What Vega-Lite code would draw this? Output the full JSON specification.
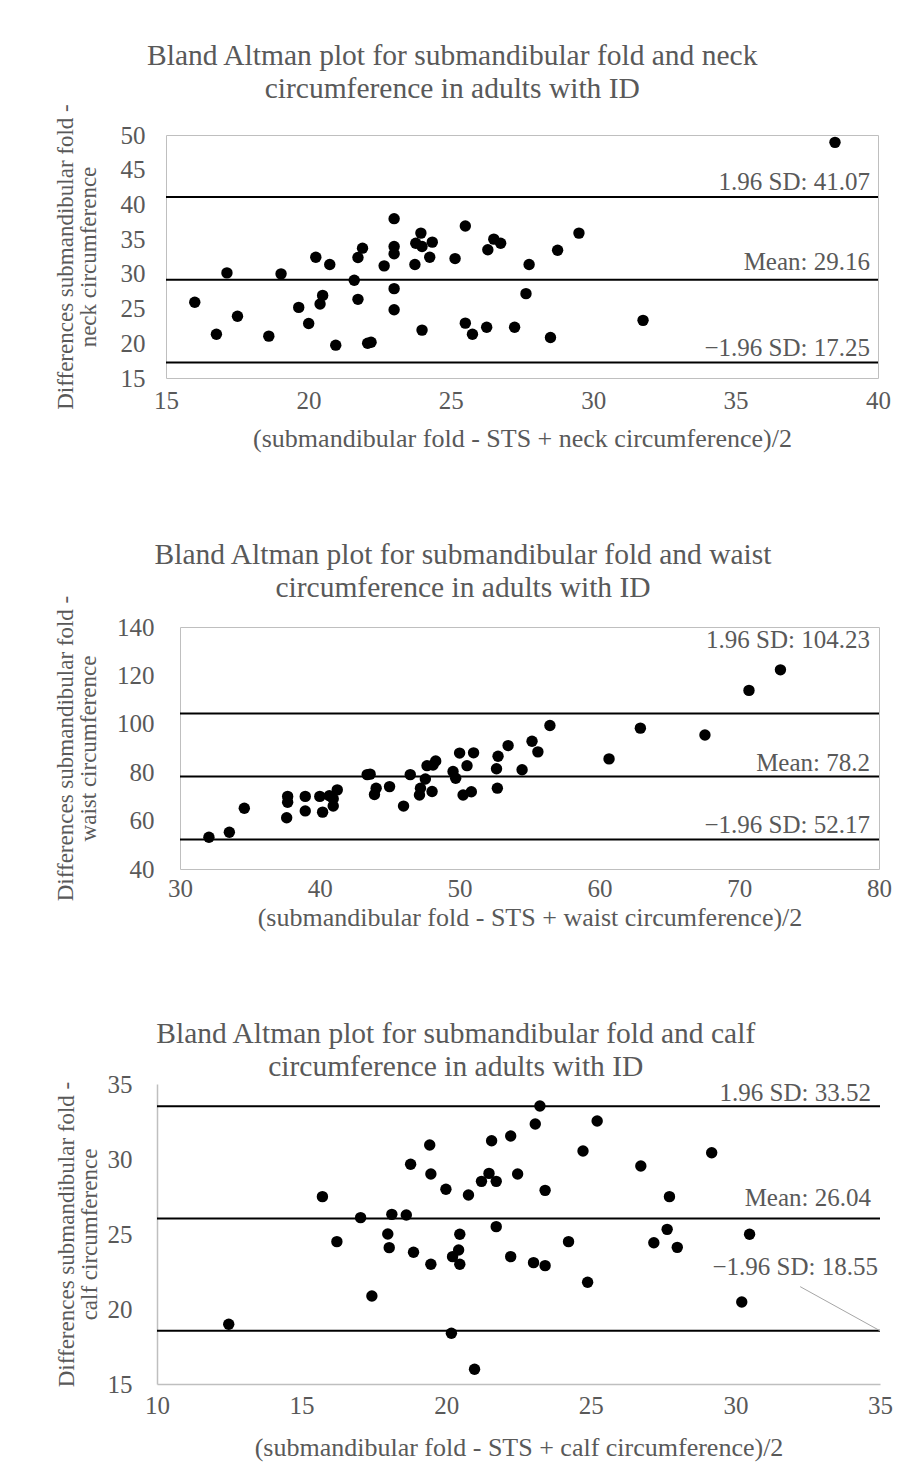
{
  "$schema": "https://vega.github.io/schema/vega-lite/v6.json",
  "background": "white",
  "padding": {"left": 10, "top": 40, "right": 10, "bottom": 5},
  "columns": 1,
  "spacing": 87,
  "config": {
    "font": "Liberation Serif",
    "view": {"stroke": "#bfbfbf", "strokeWidth": 1},
    "axis": {
      "grid": false, "ticks": false, "domain": false, "labelFlush": false, "labelOverlap": false, "tickCount": 20,
      "labelFont": "Liberation Serif", "labelFontSize": 25, "labelColor": "#595959",
      "titleFont": "Liberation Serif", "titleFontSize": 26, "titleColor": "#595959",
      "titleFontWeight": "normal", "titleLineHeight": 23
    },
    "title": {"font": "Liberation Serif", "fontSize": 29.5, "fontWeight": "normal", "color": "#595959", "anchor": "middle", "frame": "bounds", "lineHeight": 33}
  },
  "datasets": {
    "empty": [],
    "neck": [
      {"mean": 16.01, "diff": 25.9}, {"mean": 16.77, "diff": 21.3}, {"mean": 17.14, "diff": 30.14}, {"mean": 17.51, "diff": 23.9},
      {"mean": 18.61, "diff": 21.03}, {"mean": 19.04, "diff": 30.0}, {"mean": 19.66, "diff": 25.17}, {"mean": 20.01, "diff": 22.85},
      {"mean": 20.26, "diff": 32.4}, {"mean": 20.41, "diff": 25.65}, {"mean": 20.5, "diff": 26.9}, {"mean": 20.75, "diff": 31.34},
      {"mean": 20.96, "diff": 19.73}, {"mean": 21.61, "diff": 29.07}, {"mean": 21.74, "diff": 26.33}, {"mean": 21.74, "diff": 32.35},
      {"mean": 21.9, "diff": 33.7}, {"mean": 22.08, "diff": 20.0}, {"mean": 22.2, "diff": 20.15}, {"mean": 22.66, "diff": 31.15},
      {"mean": 23.01, "diff": 37.95}, {"mean": 23.01, "diff": 33.95}, {"mean": 23.01, "diff": 32.9}, {"mean": 23.01, "diff": 27.87},
      {"mean": 23.01, "diff": 24.83}, {"mean": 23.74, "diff": 31.34}, {"mean": 23.77, "diff": 34.4}, {"mean": 23.95, "diff": 35.87},
      {"mean": 23.99, "diff": 33.95}, {"mean": 23.99, "diff": 21.9}, {"mean": 24.26, "diff": 32.4}, {"mean": 24.35, "diff": 34.57},
      {"mean": 25.15, "diff": 32.2}, {"mean": 25.51, "diff": 36.9}, {"mean": 25.51, "diff": 22.9}, {"mean": 25.76, "diff": 21.3},
      {"mean": 26.26, "diff": 22.3}, {"mean": 26.3, "diff": 33.47}, {"mean": 26.51, "diff": 35.0}, {"mean": 26.75, "diff": 34.4},
      {"mean": 27.24, "diff": 22.3}, {"mean": 27.64, "diff": 27.15}, {"mean": 27.75, "diff": 31.34}, {"mean": 28.5, "diff": 20.83},
      {"mean": 28.75, "diff": 33.4}, {"mean": 29.5, "diff": 35.87}, {"mean": 31.75, "diff": 23.3}, {"mean": 38.49, "diff": 48.94}
    ],
    "neckLimits": [
      {"value": 41.07, "labelAt": 43.25, "label": "1.96 SD: 41.07"},
      {"value": 29.16, "labelAt": 31.67, "label": "Mean: 29.16"},
      {"value": 17.25, "labelAt": 19.38, "label": "−1.96 SD: 17.25"}
    ],
    "waist": [
      {"mean": 32.07, "diff": 53.1}, {"mean": 33.53, "diff": 55.2}, {"mean": 34.6, "diff": 65.1}, {"mean": 37.63, "diff": 61.2},
      {"mean": 37.7, "diff": 67.6}, {"mean": 37.7, "diff": 70.0}, {"mean": 38.96, "diff": 70.0}, {"mean": 38.96, "diff": 64.0},
      {"mean": 40.0, "diff": 70.0}, {"mean": 40.2, "diff": 63.5}, {"mean": 40.68, "diff": 70.3}, {"mean": 40.96, "diff": 66.0},
      {"mean": 40.96, "diff": 69.0}, {"mean": 41.25, "diff": 72.7}, {"mean": 43.39, "diff": 79.0}, {"mean": 43.6, "diff": 79.2},
      {"mean": 43.91, "diff": 70.8}, {"mean": 44.03, "diff": 73.4}, {"mean": 44.99, "diff": 74.05}, {"mean": 45.99, "diff": 66.0},
      {"mean": 46.47, "diff": 79.0}, {"mean": 47.13, "diff": 70.6}, {"mean": 47.2, "diff": 73.4}, {"mean": 47.55, "diff": 77.2},
      {"mean": 47.67, "diff": 82.7}, {"mean": 48.03, "diff": 72.0}, {"mean": 48.1, "diff": 83.0}, {"mean": 48.29, "diff": 84.6},
      {"mean": 49.53, "diff": 80.3}, {"mean": 49.72, "diff": 77.5}, {"mean": 50.0, "diff": 87.9}, {"mean": 50.25, "diff": 70.6},
      {"mean": 50.53, "diff": 82.7}, {"mean": 50.84, "diff": 71.9}, {"mean": 51.0, "diff": 88.0}, {"mean": 52.7, "diff": 73.4},
      {"mean": 52.64, "diff": 81.4}, {"mean": 52.75, "diff": 86.6}, {"mean": 53.47, "diff": 91.0}, {"mean": 54.47, "diff": 81.0},
      {"mean": 55.18, "diff": 92.8}, {"mean": 55.6, "diff": 88.4}, {"mean": 56.46, "diff": 99.3}, {"mean": 60.69, "diff": 85.5},
      {"mean": 62.93, "diff": 98.2}, {"mean": 67.55, "diff": 95.4}, {"mean": 70.7, "diff": 113.8}, {"mean": 72.95, "diff": 122.3}
    ],
    "waistLimits": [
      {"value": 104.23, "labelAt": 134.46, "label": "1.96 SD: 104.23"},
      {"value": 78.2, "labelAt": 83.9, "label": "Mean: 78.2"},
      {"value": 52.17, "labelAt": 58.2, "label": "−1.96 SD: 52.17"}
    ],
    "calf": [
      {"mean": 12.48, "diff": 18.98}, {"mean": 15.72, "diff": 27.49}, {"mean": 16.22, "diff": 24.49}, {"mean": 17.04, "diff": 26.09},
      {"mean": 17.43, "diff": 20.87}, {"mean": 17.98, "diff": 25.0}, {"mean": 18.03, "diff": 24.09}, {"mean": 18.12, "diff": 26.31},
      {"mean": 18.62, "diff": 26.27}, {"mean": 18.77, "diff": 29.65}, {"mean": 18.87, "diff": 23.78}, {"mean": 19.43, "diff": 30.93},
      {"mean": 19.47, "diff": 29.0}, {"mean": 19.47, "diff": 22.98}, {"mean": 19.99, "diff": 27.98}, {"mean": 20.18, "diff": 18.38},
      {"mean": 20.22, "diff": 23.49}, {"mean": 20.43, "diff": 23.93}, {"mean": 20.47, "diff": 24.98}, {"mean": 20.47, "diff": 22.98},
      {"mean": 20.77, "diff": 27.6}, {"mean": 20.98, "diff": 15.98}, {"mean": 21.22, "diff": 28.51}, {"mean": 21.48, "diff": 29.04},
      {"mean": 21.57, "diff": 31.22}, {"mean": 21.73, "diff": 28.51}, {"mean": 21.73, "diff": 25.49}, {"mean": 22.23, "diff": 31.53},
      {"mean": 22.23, "diff": 23.49}, {"mean": 22.47, "diff": 29.0}, {"mean": 23.02, "diff": 23.09}, {"mean": 23.08, "diff": 32.33},
      {"mean": 23.24, "diff": 33.53}, {"mean": 23.42, "diff": 27.91}, {"mean": 23.42, "diff": 22.89}, {"mean": 24.23, "diff": 24.49},
      {"mean": 24.73, "diff": 30.53}, {"mean": 24.89, "diff": 21.78}, {"mean": 25.22, "diff": 32.53}, {"mean": 26.73, "diff": 29.53},
      {"mean": 27.18, "diff": 24.42}, {"mean": 27.64, "diff": 25.31}, {"mean": 27.72, "diff": 27.49}, {"mean": 27.99, "diff": 24.11},
      {"mean": 29.18, "diff": 30.42}, {"mean": 30.22, "diff": 20.47}, {"mean": 30.49, "diff": 24.98}
    ],
    "calfLimits": [
      {"value": 33.52, "labelAt": 34.38, "label": "1.96 SD: 33.52"},
      {"value": 26.04, "labelAt": 27.38, "label": "Mean: 26.04"}
    ],
    "calfLower": [
      {"value": 18.55, "labelAt": 22.82, "label": "−1.96 SD: 18.55", "fromX": 32.24, "fromY": 21.49, "toX": 35}
    ]
  },
  "concat": [
    {
      "spacing": 0,
      "hconcat": [
        {"width": 43, "height": 1, "view": {"stroke": null}, "data": {"name": "empty"}, "mark": "point"},
        {
          "width": 712, "height": 243,
          "title": {"text": ["Bland Altman plot for submandibular fold and neck", "circumference in adults with ID"], "offset": -1, "dx": -20},
          "layer": [
            {
              "data": {"name": "neckLimits"},
              "mark": {"type": "rule", "color": "black", "strokeWidth": 2},
              "encoding": {"y": {"field": "value", "type": "quantitative", "scale": {"domain": [15, 50], "nice": false, "zero": false},
                      "axis": {"values": [15, 20, 25, 30, 35, 40, 45, 50], "tickCount": 20, "labelOverlap": false, "title": ["Differences submandibular fold -", "neck circumference"], "titleFontSize": 23, "labelPadding": 21, "titlePadding": 20}}}
            },
            {
              "data": {"name": "neck"},
              "mark": {"type": "circle", "size": 130, "color": "black", "opacity": 1},
              "encoding": {
                "x": {"field": "mean", "type": "quantitative", "scale": {"domain": [15, 40], "nice": false, "zero": false},
                      "axis": {"values": [15, 20, 25, 30, 35, 40], "tickCount": 20, "labelOverlap": false, "title": "(submandibular fold - STS + neck circumference)/2", "labelPadding": 10, "titlePadding": 12}},
                "y": {"field": "diff", "type": "quantitative",
                      "axis": {"values": [15, 20, 25, 30, 35, 40, 45, 50], "tickCount": 20, "labelOverlap": false, "title": ["Differences submandibular fold -", "neck circumference"], "titleFontSize": 23, "labelPadding": 21, "titlePadding": 20}}
              }
            },
            {
              "data": {"name": "neckLimits"},
              "mark": {"type": "text", "align": "right", "baseline": "middle", "dx": -8, "fontSize": 25, "color": "#595959"},
              "encoding": {"x": {"datum": 40, "type": "quantitative"}, "y": {"field": "labelAt", "type": "quantitative"}, "text": {"field": "label"}}
            }
          ]
        }
      ]
    },
    {
      "spacing": 0,
      "hconcat": [
        {"width": 43, "height": 1, "view": {"stroke": null}, "data": {"name": "empty"}, "mark": "point"},
        {
          "width": 699, "height": 242,
          "title": {"text": ["Bland Altman plot for submandibular fold and waist", "circumference in adults with ID"], "offset": -8, "dx": -10},
          "layer": [
            {
              "data": {"name": "waistLimits"},
              "mark": {"type": "rule", "color": "black", "strokeWidth": 2},
              "encoding": {"y": {"field": "value", "type": "quantitative", "scale": {"domain": [40, 140], "nice": false, "zero": false},
                      "axis": {"values": [40, 60, 80, 100, 120, 140], "tickCount": 20, "labelOverlap": false, "title": ["Differences submandibular fold -", "waist circumference"], "titleFontSize": 23, "labelPadding": 26, "titlePadding": 16}}}
            },
            {
              "data": {"name": "waist"},
              "mark": {"type": "circle", "size": 130, "color": "black", "opacity": 1},
              "encoding": {
                "x": {"field": "mean", "type": "quantitative", "scale": {"domain": [30, 80], "nice": false, "zero": false},
                      "axis": {"values": [30, 40, 50, 60, 70, 80], "tickCount": 20, "labelOverlap": false, "title": "(submandibular fold - STS + waist circumference)/2", "labelPadding": 7, "titlePadding": 3}},
                "y": {"field": "diff", "type": "quantitative",
                      "axis": {"values": [40, 60, 80, 100, 120, 140], "tickCount": 20, "labelOverlap": false, "title": ["Differences submandibular fold -", "waist circumference"], "titleFontSize": 23, "labelPadding": 26, "titlePadding": 16}}
              }
            },
            {
              "data": {"name": "waistLimits"},
              "mark": {"type": "text", "align": "right", "baseline": "middle", "dx": -9, "fontSize": 25, "color": "#595959"},
              "encoding": {"x": {"datum": 80, "type": "quantitative"}, "y": {"field": "labelAt", "type": "quantitative"}, "text": {"field": "label"}}
            }
          ]
        }
      ]
    },
    {
      "spacing": 0,
      "hconcat": [
        {"width": 44, "height": 1, "view": {"stroke": null}, "data": {"name": "empty"}, "mark": "point"},
        {
          "width": 723, "height": 300,
          "view": {"stroke": null},
          "title": {"text": ["Bland Altman plot for submandibular fold and calf", "circumference in adults with ID"], "offset": -10, "dx": -18},
          "layer": [
            {
              "data": {"name": "calfLimits"},
              "mark": {"type": "rule", "color": "black", "strokeWidth": 2},
              "encoding": {"y": {"field": "value", "type": "quantitative", "scale": {"domain": [15, 35], "nice": false, "zero": false},
                      "axis": {"values": [15, 20, 25, 30, 35], "tickCount": 20, "labelOverlap": false, "title": ["Differences submandibular fold -", "calf circumference"], "titleFontSize": 23, "labelPadding": 25, "titlePadding": 6, "domain": true, "domainColor": "#bfbfbf", "domainWidth": 1.5}}}
            },
            {
              "data": {"name": "calfLower"},
              "mark": {"type": "rule", "color": "black", "strokeWidth": 2},
              "encoding": {"y": {"field": "value", "type": "quantitative"}}
            },
            {
              "data": {"name": "calfLower"},
              "mark": {"type": "rule", "color": "#a6a6a6", "strokeWidth": 1},
              "encoding": {
                "x": {"field": "fromX", "type": "quantitative"}, "y": {"field": "fromY", "type": "quantitative"},
                "x2": {"field": "toX"}, "y2": {"field": "value"}
              }
            },
            {
              "data": {"name": "calf"},
              "mark": {"type": "circle", "size": 130, "color": "black", "opacity": 1},
              "encoding": {
                "x": {"field": "mean", "type": "quantitative", "scale": {"domain": [10, 35], "nice": false, "zero": false},
                      "axis": {"values": [10, 15, 20, 25, 30, 35], "tickCount": 20, "labelOverlap": false, "title": "(submandibular fold - STS + calf circumference)/2", "labelPadding": 9, "titlePadding": 16, "domain": true, "domainColor": "#bfbfbf", "domainWidth": 1.5}},
                "y": {"field": "diff", "type": "quantitative",
                      "axis": {"values": [15, 20, 25, 30, 35], "tickCount": 20, "labelOverlap": false, "title": ["Differences submandibular fold -", "calf circumference"], "titleFontSize": 23, "labelPadding": 25, "titlePadding": 6, "domain": true, "domainColor": "#bfbfbf", "domainWidth": 1.5}}
              }
            },
            {
              "data": {"name": "calfLimits"},
              "mark": {"type": "text", "align": "right", "baseline": "middle", "dx": -9, "fontSize": 25, "color": "#595959"},
              "encoding": {"x": {"datum": 35, "type": "quantitative"}, "y": {"field": "labelAt", "type": "quantitative"}, "text": {"field": "label"}}
            },
            {
              "data": {"name": "calfLower"},
              "mark": {"type": "text", "align": "right", "baseline": "middle", "dx": -2, "fontSize": 25, "color": "#595959"},
              "encoding": {"x": {"datum": 35, "type": "quantitative"}, "y": {"field": "labelAt", "type": "quantitative"}, "text": {"field": "label"}}
            }
          ]
        }
      ]
    }
  ]
}
